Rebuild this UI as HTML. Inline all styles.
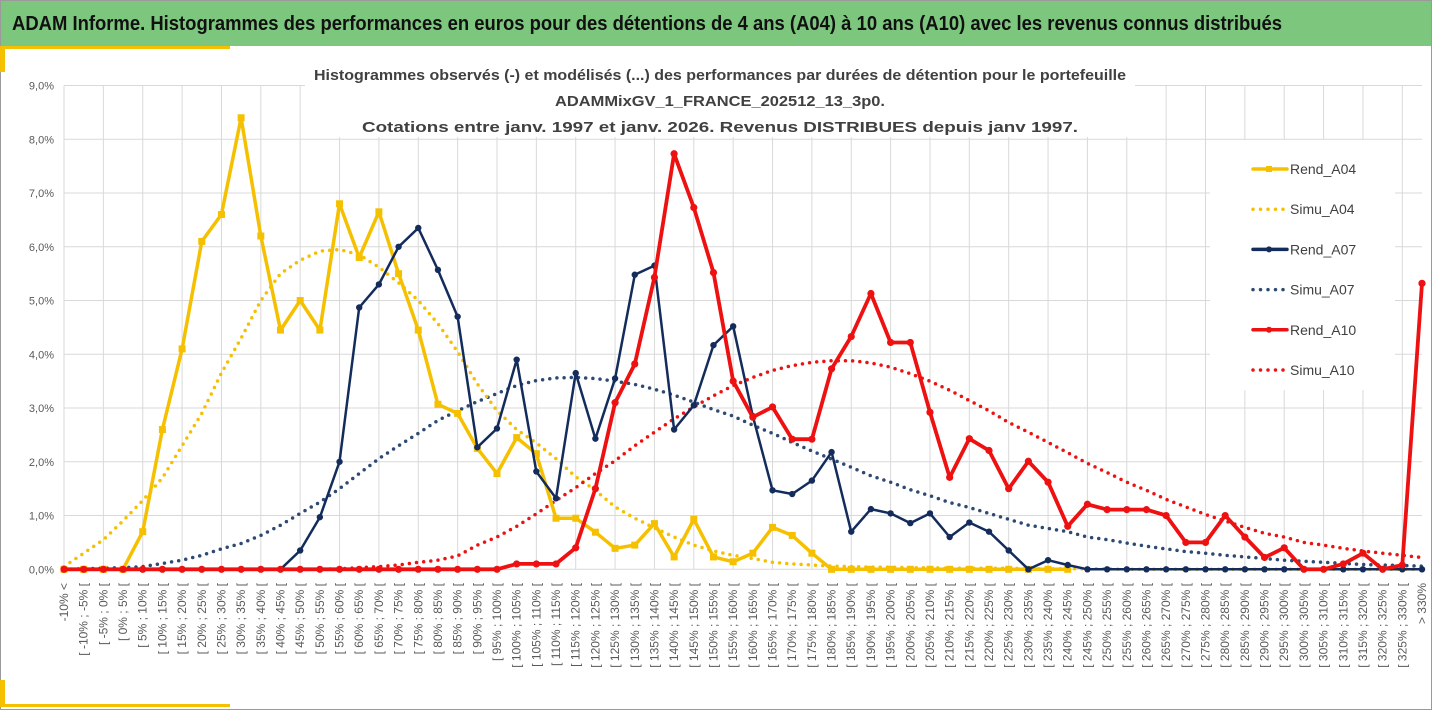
<!DOCTYPE html>
<html><head><meta charset="utf-8"><style>
html,body{margin:0;padding:0;background:#fff;}
svg{display:block;font-family:"Liberation Sans",sans-serif;}
</style></head><body>
<svg id="chart" width="1432" height="710" viewBox="0 0 1432 710" xmlns="http://www.w3.org/2000/svg">
<rect x="0.5" y="0.5" width="1431" height="709" fill="#fff" stroke="#9a9a9a"/>
<rect x="1" y="1" width="1430" height="45" fill="#7dc67e"/>
<text x="12" y="30" font-size="20" font-weight="bold" fill="#111" textLength="1270" lengthAdjust="spacingAndGlyphs">ADAM Informe. Histogrammes des performances en euros pour des détentions de 4 ans (A04) à 10 ans (A10) avec les revenus connus distribués</text>
<rect x="0" y="46" width="230" height="3" fill="#f5c000"/>
<rect x="0" y="46" width="5" height="26" fill="#f5c000"/>
<rect x="0" y="704" width="230" height="3" fill="#f5c000"/>
<rect x="0" y="680" width="5" height="27" fill="#f5c000"/>
<g id="grid"></g>
<rect x="305" y="60" width="830" height="77" fill="#fff"/>
<rect x="1210" y="140" width="185" height="250" fill="#fff"/>
<g fill="#404040" font-size="15" font-weight="bold" text-anchor="middle">
<text x="720" y="80" textLength="812" lengthAdjust="spacingAndGlyphs">Histogrammes observés (-) et modélisés (...) des performances par durées de détention pour le portefeuille</text>
<text x="720" y="106" textLength="330" lengthAdjust="spacingAndGlyphs">ADAMMixGV_1_FRANCE_202512_13_3p0.</text>
<text x="720" y="132" textLength="716" lengthAdjust="spacingAndGlyphs">Cotations entre janv. 1997 et janv. 2026. Revenus DISTRIBUES depuis janv 1997.</text>
</g>
<g id="yaxis"></g>
<g id="xaxis"></g>
<g id="series"></g>
<g id="legend"></g>
</svg>
<script>
const categories = (function(){const a=["-10% <"];for(let v=-10;v<330;v+=5){a.push("[ "+v+"% ; "+(v+5)+"% ["); }a.push("> 330%");return a;})();
const yTicks = [0,1,2,3,4,5,6,7,8,9];
const yTickLabels = ["0,0%","1,0%","2,0%","3,0%","4,0%","5,0%","6,0%","7,0%","8,0%","9,0%"];
const rendA04 = [0,0,0,0,0.7,2.6,4.1,6.1,6.6,8.4,6.2,4.45,5.0,4.45,6.8,5.8,6.65,5.5,4.45,3.07,2.9,2.25,1.78,2.45,2.15,0.95,0.95,0.69,0.39,0.45,0.85,0.23,0.93,0.23,0.14,0.3,0.78,0.63,0.3,0,0,0,0,0,0,0,0,0,0,0,0,0,null,null,null,null,null,null,null,null,null,null,null,null,null,null,null,null,null,null];
const simuA04 = [0.05,0.3,0.55,0.9,1.28,1.7,2.3,2.9,3.65,4.3,5.0,5.5,5.75,5.92,5.95,5.85,5.62,5.33,5.0,4.57,4.05,3.45,2.95,2.6,2.35,2.06,1.72,1.47,1.16,0.95,0.77,0.6,0.45,0.34,0.26,0.2,0.13,0.1,0.08,0.06,0.05,0.04,0.04,0.03,0.03,0.02,0.02,0.02,0.02,0.01,0.01,0.01,0.01,0.01,0,0,0,0,0,0,0,0,0,0,0,0,0,0,0,0];
const rendA07 = [0,0,0,0,0,0,0,0,0,0,0,0,0.35,0.97,2.0,4.87,5.3,6.0,6.35,5.57,4.7,2.27,2.62,3.9,1.82,1.32,3.65,2.43,3.55,5.48,5.65,2.6,3.05,4.17,4.52,2.85,1.47,1.4,1.65,2.18,0.7,1.12,1.04,0.86,1.04,0.6,0.87,0.7,0.35,0,0.17,0.08,0,0,0,0,0,0,0,0,0,0,0,0,0,0,0,0,0,0];
const simuA07 = [0,0.01,0.02,0.03,0.05,0.11,0.17,0.26,0.38,0.48,0.63,0.82,1.04,1.25,1.5,1.78,2.06,2.3,2.53,2.77,2.95,3.12,3.27,3.42,3.51,3.56,3.57,3.55,3.5,3.44,3.35,3.24,3.11,2.97,2.85,2.68,2.53,2.36,2.2,2.05,1.9,1.74,1.62,1.48,1.37,1.24,1.15,1.04,0.93,0.82,0.76,0.7,0.6,0.55,0.49,0.43,0.38,0.33,0.3,0.26,0.23,0.2,0.17,0.15,0.13,0.11,0.09,0.08,0.07,0.06];
const rendA10 = [0,0,0,0,0,0,0,0,0,0,0,0,0,0,0,0,0,0,0,0,0,0,0,0.1,0.1,0.1,0.4,1.5,3.1,3.82,5.43,7.73,6.73,5.52,3.5,2.83,3.02,2.42,2.42,3.73,4.33,5.13,4.22,4.22,2.92,1.71,2.43,2.21,1.5,2.01,1.62,0.8,1.21,1.11,1.11,1.11,1.0,0.5,0.5,1.0,0.6,0.22,0.4,0,0,0.1,0.3,0,0.08,5.32];
const simuA10 = [0,0,0,0,0,0,0,0,0,0,0,0,0,0,0.01,0.03,0.05,0.08,0.13,0.17,0.25,0.45,0.6,0.8,1.03,1.28,1.52,1.78,2.02,2.3,2.55,2.8,3.02,3.23,3.42,3.57,3.7,3.79,3.85,3.88,3.88,3.84,3.76,3.64,3.5,3.33,3.14,2.95,2.73,2.55,2.36,2.17,1.97,1.8,1.62,1.47,1.3,1.16,1.02,0.9,0.78,0.67,0.6,0.5,0.45,0.39,0.34,0.3,0.26,0.22];
const seriesNames = ["Rend_A04","Simu_A04","Rend_A07","Simu_A07","Rend_A10","Simu_A10"];

const NS="http://www.w3.org/2000/svg";
const X0=64, X1=1422, Y0=569.3, Y1=85.5, YMAX=9;
function xPos(i){return X0+(X1-X0)*i/(categories.length-1);}
function yPos(v){return Y0-(Y0-Y1)*v/YMAX;}
function mk(tag,attrs,parent){const e=document.createElementNS(NS,tag);for(const k in attrs)e.setAttribute(k,attrs[k]);parent.appendChild(e);return e;}
const grid=document.getElementById('grid');
for(let i=0;i<categories.length;i+=2){
  const l=mk('line',{x1:xPos(i),x2:xPos(i),y1:Y1,y2:Y0,stroke:'#d9d9d9','stroke-width':1},grid);
  
  
}
const ya=document.getElementById('yaxis');
yTicks.forEach((t,k)=>{
  const l=mk('line',{x1:X0,x2:X1,y1:yPos(t),y2:yPos(t),stroke:'#d9d9d9','stroke-width':1},grid);
  
  
  const tx=mk('text',{x:54,y:yPos(t)+4,'font-size':11,fill:'#595959','text-anchor':'end'},ya);
  tx.textContent=yTickLabels[k];
  
  
});
const xa=document.getElementById('xaxis');
categories.forEach((c,i)=>{
  const x=xPos(i)+4, y=583;
  const tx=mk('text',{x:x,y:y,'font-size':12,fill:'#595959','text-anchor':'end',transform:`rotate(-90 ${x} ${y})`},xa);
  tx.textContent=c;
  
  
});
const sg=document.getElementById('series');
function drawLine(data,color,width,dotted,name){
  let d='';let pen=false;
  data.forEach((v,i)=>{if(v===null){pen=false;return;}d+=(pen?'L':'M')+xPos(i).toFixed(1)+' '+yPos(v).toFixed(1)+' ';pen=true;});
  const p=mk('path',{d:d,fill:'none',stroke:color,'stroke-width':width,'stroke-linejoin':'round','stroke-linecap':'round'},sg);
  if(dotted)p.setAttribute('stroke-dasharray','0 7.2');
  
  
}
function drawMarkers(data,color,shape,size,name){
  data.forEach((v,i)=>{
    if(v===null)return;
    let m;
    if(shape==='sq') m=mk('rect',{x:xPos(i)-size/2,y:yPos(v)-size/2,width:size,height:size,fill:color},sg);
    else m=mk('circle',{cx:xPos(i),cy:yPos(v),r:size,fill:color},sg);
    
    
  });
}
drawLine(simuA07,'#2e4a72',3.5,true,'simu-a07-line');
drawLine(simuA04,'#f5c000',3.5,true,'simu-a04-line');
drawLine(simuA10,'#ee1111',3.5,true,'simu-a10-line');
drawLine(rendA04,'#f5c000',3.5,false,'rend-a04-line');
drawMarkers(rendA04,'#f5c000','sq',7,'rend-a04-marker');
drawLine(rendA07,'#132c5c',2.5,false,'rend-a07-line');
drawMarkers(rendA07,'#132c5c','c',3.2,'rend-a07-marker');
drawLine(rendA10,'#ee1111',3.8,false,'rend-a10-line');
drawMarkers(rendA10,'#ee1111','c',3.6,'rend-a10-marker');

const lg=document.getElementById('legend');
const legendStyles=[['#f5c000',false,'sq'],['#f5c000',true,null],['#132c5c',false,'c'],['#2e4a72',true,null],['#ee1111',false,'c'],['#ee1111',true,null]];
seriesNames.forEach((n,k)=>{
  const y=169+k*40.2;
  const [col,dot,mark]=legendStyles[k];
  const g=mk('g',{},lg);
  
  
  const l=mk('line',{x1:1253,x2:1287,y1:y,y2:y,stroke:col,'stroke-width':3.5,'stroke-linecap':'round'},g);
  if(dot)l.setAttribute('stroke-dasharray','0 7.5');
  if(mark==='sq')mk('rect',{x:1266,y:y-3,width:6,height:6,fill:col},g);
  if(mark==='c')mk('circle',{cx:1269,cy:y,r:3,fill:col},g);
  const t=mk('text',{x:1290,y:y+5,'font-size':14,fill:'#404040'},g);
  t.textContent=n;
});
</script>
</body></html>
